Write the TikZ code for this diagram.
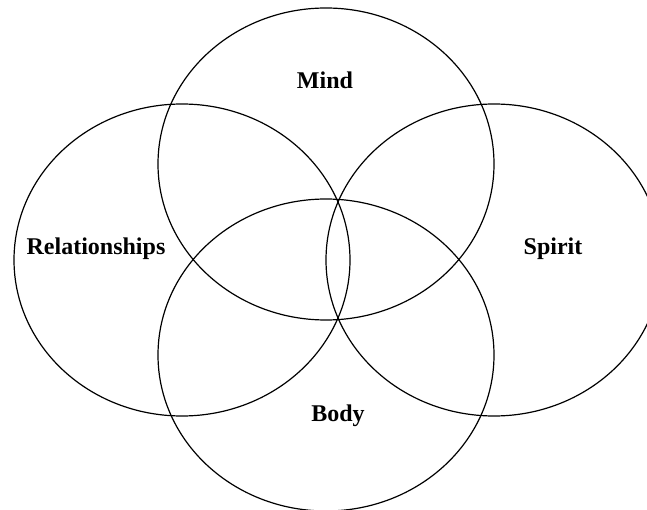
\documentclass[tikz,border=0pt]{standalone}
\usepackage{fontspec}
\setmainfont{Liberation Serif}
\usetikzlibrary{shapes.geometric}

\begin{document}
\begin{tikzpicture}[
  x=1pt,y=-1pt,
  every node/.style={font=\bfseries\fontsize{24}{28}\selectfont},
  ring/.style={ellipse,draw,line width=1.2pt,minimum width=336pt,minimum height=312pt,inner sep=0pt}
]
\clip (0,0) rectangle (647,510);
% the four overlapping ellipses
\node[ring] (mind) at (326,164) {};
\node[ring] (rel) at (182,260) {};
\node[ring] (spirit) at (494,260) {};
\node[ring] (body) at (326,355) {};
% labels
\node (mindlab) at (325,80) {Mind};
\node (rellab) at (96,249) {Relationships};
\node (spiritlab) at (553,249) {Spirit};
\node (bodylab) at (338,416) {Body};
\end{tikzpicture}
\end{document}
